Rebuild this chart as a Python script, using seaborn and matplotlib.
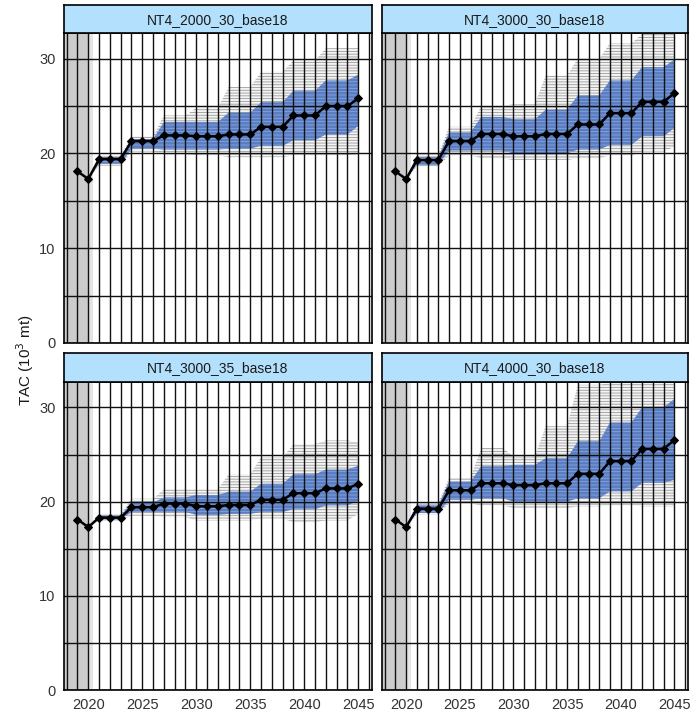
import numpy as np
import pandas as pd
import matplotlib
matplotlib.use("Agg")
import matplotlib.pyplot as plt
import seaborn as sns

sns.set_theme(style="white")
plt.rcParams['font.family'] = ['Liberation Sans', 'DejaVu Sans']
plt.rcParams['hatch.linewidth'] = 0.6

panels = ["NT4_2000_30_base18", "NT4_3000_30_base18", "NT4_3000_35_base18", "NT4_4000_30_base18"]
med_years = list(range(2019, 2046))
band_years = list(range(2020, 2046))

med_1 = [18.1, 17.3, 19.4, 19.4, 19.4, 21.3, 21.3, 21.3, 21.9, 21.9, 21.9, 21.8, 21.8, 21.8, 22.0, 22.0, 22.0, 22.8, 22.8, 22.8, 24.0, 24.0, 24.0, 25.0, 25.0, 25.0, 25.8]
lo_1 = [17.3, 18.9, 18.9, 18.9, 20.5, 20.5, 20.5, 20.4, 20.4, 20.4, 20.4, 20.4, 20.4, 20.5, 20.5, 20.5, 20.8, 20.8, 20.8, 21.4, 21.4, 21.4, 22.0, 22.0, 22.0, 22.9]
hi_1 = [17.3, 19.6, 19.6, 19.6, 21.5, 21.5, 21.5, 23.3, 23.3, 23.3, 23.3, 23.3, 23.3, 24.3, 24.3, 24.3, 25.4, 25.4, 25.4, 26.6, 26.6, 26.6, 27.7, 27.7, 27.7, 28.3]
olo_1 = [17.3, 18.7, 18.7, 18.7, 20.2, 20.2, 20.2, 19.9, 19.9, 19.9, 19.8, 19.8, 19.8, 19.6, 19.6, 19.6, 19.6, 19.6, 19.6, 19.8, 19.8, 19.8, 19.8, 19.8, 19.8, 19.9]
ohi_1 = [17.3, 19.8, 19.8, 19.8, 21.8, 21.8, 21.8, 24.0, 24.0, 24.0, 24.8, 24.8, 24.8, 27.0, 27.0, 27.0, 28.6, 28.6, 28.6, 29.8, 29.8, 29.8, 31.1, 31.1, 31.1, 31.1]

med_2 = [18.1, 17.3, 19.3, 19.3, 19.3, 21.3, 21.3, 21.3, 22.05, 22.05, 22.05, 21.8, 21.8, 21.8, 22.05, 22.05, 22.05, 23.05, 23.05, 23.05, 24.25, 24.25, 24.25, 25.45, 25.45, 25.45, 26.35]
lo_2 = [17.3, 18.8, 18.8, 18.8, 20.3, 20.3, 20.3, 20.3, 20.3, 20.3, 20.0, 20.0, 20.0, 20.0, 20.0, 20.0, 20.4, 20.4, 20.4, 20.9, 20.9, 20.9, 21.8, 21.8, 21.8, 22.7]
hi_2 = [17.3, 19.6, 19.6, 19.6, 22.2, 22.2, 22.2, 23.85, 23.85, 23.85, 23.6, 23.6, 23.6, 24.6, 24.6, 24.6, 26.1, 26.1, 26.1, 27.7, 27.7, 27.7, 29.1, 29.1, 29.1, 29.9]
olo_2 = [17.3, 18.6, 18.6, 18.6, 19.8, 19.8, 19.8, 19.5, 19.5, 19.5, 19.3, 19.3, 19.3, 19.3, 19.3, 19.3, 19.5, 19.5, 19.5, 19.8, 19.8, 19.8, 20.2, 20.2, 20.2, 20.7]
ohi_2 = [17.3, 19.9, 19.9, 19.9, 22.8, 22.8, 22.8, 25.0, 25.0, 25.0, 25.2, 25.2, 25.2, 28.2, 28.2, 28.2, 30.0, 30.0, 30.0, 31.6, 31.6, 31.6, 32.6, 32.6, 32.6, 32.6]

med_3 = [18.1, 17.3, 18.3, 18.3, 18.3, 19.4, 19.4, 19.4, 19.8, 19.8, 19.8, 19.5, 19.5, 19.5, 19.65, 19.65, 19.65, 20.2, 20.2, 20.2, 20.9, 20.9, 20.9, 21.4, 21.4, 21.4, 21.9]
lo_3 = [17.3, 18.1, 18.1, 18.1, 18.9, 18.9, 18.9, 18.9, 18.9, 18.9, 18.6, 18.6, 18.6, 18.7, 18.7, 18.7, 18.9, 18.9, 18.9, 19.2, 19.2, 19.2, 19.6, 19.6, 19.6, 20.1]
hi_3 = [17.3, 18.5, 18.5, 18.5, 19.9, 19.9, 19.9, 20.45, 20.45, 20.45, 20.7, 20.7, 20.7, 21.05, 21.05, 21.05, 21.9, 21.9, 21.9, 22.9, 22.9, 22.9, 23.4, 23.4, 23.4, 23.8]
olo_3 = [17.3, 18.0, 18.0, 18.0, 18.5, 18.5, 18.5, 18.35, 18.35, 18.35, 18.0, 18.0, 18.0, 18.0, 18.0, 18.0, 18.2, 18.2, 18.2, 17.8, 17.8, 17.8, 18.0, 18.0, 18.0, 18.7]
ohi_3 = [17.3, 18.7, 18.7, 18.7, 20.3, 20.3, 20.3, 21.3, 21.3, 21.3, 21.3, 21.3, 21.3, 22.9, 22.9, 22.9, 24.7, 24.7, 24.7, 26.1, 26.1, 26.1, 26.5, 26.5, 26.5, 26.3]

med_4 = [18.1, 17.3, 19.25, 19.25, 19.25, 21.2, 21.2, 21.2, 21.95, 21.95, 21.95, 21.75, 21.75, 21.75, 21.95, 21.95, 21.95, 22.95, 22.95, 22.95, 24.3, 24.3, 24.3, 25.6, 25.6, 25.6, 26.55]
lo_4 = [17.3, 18.8, 18.8, 18.8, 20.2, 20.2, 20.2, 20.35, 20.35, 20.35, 20.0, 20.0, 20.0, 20.0, 20.0, 20.0, 20.35, 20.35, 20.35, 21.1, 21.1, 21.1, 22.0, 22.0, 22.0, 22.3]
hi_4 = [17.3, 19.6, 19.6, 19.6, 22.1, 22.1, 22.1, 23.75, 23.75, 23.75, 23.9, 23.9, 23.9, 24.6, 24.6, 24.6, 26.4, 26.4, 26.4, 28.4, 28.4, 28.4, 30.0, 30.0, 30.0, 30.9]
olo_4 = [17.3, 18.6, 18.6, 18.6, 19.8, 19.8, 19.8, 19.6, 19.6, 19.6, 19.3, 19.3, 19.3, 19.3, 19.3, 19.3, 19.5, 19.5, 19.5, 19.6, 19.6, 19.6, 19.5, 19.5, 19.5, 19.5]
ohi_4 = [17.3, 19.9, 19.9, 19.9, 22.5, 22.5, 22.5, 25.7, 25.7, 25.7, 24.8, 24.8, 24.8, 28.0, 28.0, 28.0, 32.4, 32.4, 32.4, 32.6, 32.6, 32.6, 32.6, 32.6, 32.6, 32.6]

x_ticks = [2020, 2025, 2030, 2035, 2040, 2045]
y_ticks = [0, 10, 20, 30]
ylabel = "TAC (10$^{3}$ mt)"

meds = [med_1, med_2, med_3, med_4]
los = [lo_1, lo_2, lo_3, lo_4]
his = [hi_1, hi_2, hi_3, hi_4]
olos = [olo_1, olo_2, olo_3, olo_4]
ohis = [ohi_1, ohi_2, ohi_3, ohi_4]

W, H = 691, 715
fig = plt.figure(figsize=(W / 100, H / 100), dpi=100)

cols = [(64, 372), (382, 688)]
rows = [(5, 33, 343), (353, 382, 690)]  # strip top, panel top, panel bottom

strip_col = "#b3e1fd"
for i, name in enumerate(panels):
    r, c = divmod(i, 2)
    x0, x1 = cols[c]
    st, pt, pb = rows[r]
    ax = fig.add_axes([x0 / W, 1 - pb / H, (x1 - x0) / W, (pb - pt) / H])
    sax = fig.add_axes([x0 / W, 1 - pt / H, (x1 - x0) / W, (pt - st) / H])
    sax.set_facecolor(strip_col)
    sax.set_xticks([]); sax.set_yticks([])
    for s in sax.spines.values():
        s.set_color("black"); s.set_linewidth(1.2)
    sax.text(0.5, 0.47, name, ha="center", va="center", fontsize=10, color="#1a1a1a", transform=sax.transAxes)

    ax.set_facecolor("white")
    ax.axvspan(2017.75, 2020.1, color="#cccccc", lw=0, zorder=0)
    ax.axvspan(2020.1, 2020.45, color="#e4e4e4", lw=0, zorder=0)

    ax.fill_between(band_years, olos[i], ohis[i], facecolor="#f4f4f4", edgecolor="#9a9a9a",
                    hatch="------", lw=0, zorder=1)
    ax.fill_between(band_years, los[i], his[i], facecolor="#5a7cc0", edgecolor="#84a6e0",
                    hatch="-----", lw=0, zorder=1.5)

    df = pd.DataFrame({"year": med_years, "tac": meds[i]})
    sns.lineplot(data=df, x="year", y="tac", ax=ax, color="black", lw=1.8,
                 marker="D", markersize=4, markeredgecolor="black", zorder=4)

    ax.set_xlim(2017.75, 2046.27)
    ax.set_ylim(0, 32.7)
    ax.set_xticks(x_ticks)
    ax.set_xticks(list(range(2018, 2047)), minor=True)
    ax.set_yticks(y_ticks)
    ax.set_yticks([5, 15, 25], minor=True)
    ax.set_axisbelow(False)
    ax.grid(which="both", color="#111111", lw=1.0)
    ax.set_xlabel(""); ax.set_ylabel("")
    for s in ax.spines.values():
        s.set_color("black"); s.set_linewidth(1.2); s.set_zorder(5)
    ax.tick_params(which="minor", length=0)
    ax.tick_params(which="major", length=4, width=1, color="black", labelsize=10.5, labelcolor="#333333", pad=2)
    if r == 0:
        ax.tick_params(axis="x", which="major", length=0, labelbottom=False)
    if c == 1:
        ax.tick_params(axis="y", which="major", length=0, labelleft=False)

fig.text(25 / W, 1 - 360 / H, ylabel, rotation=90, ha="center", va="center", fontsize=11, color="#1a1a1a")

fig.savefig("out.png", dpi=100)
